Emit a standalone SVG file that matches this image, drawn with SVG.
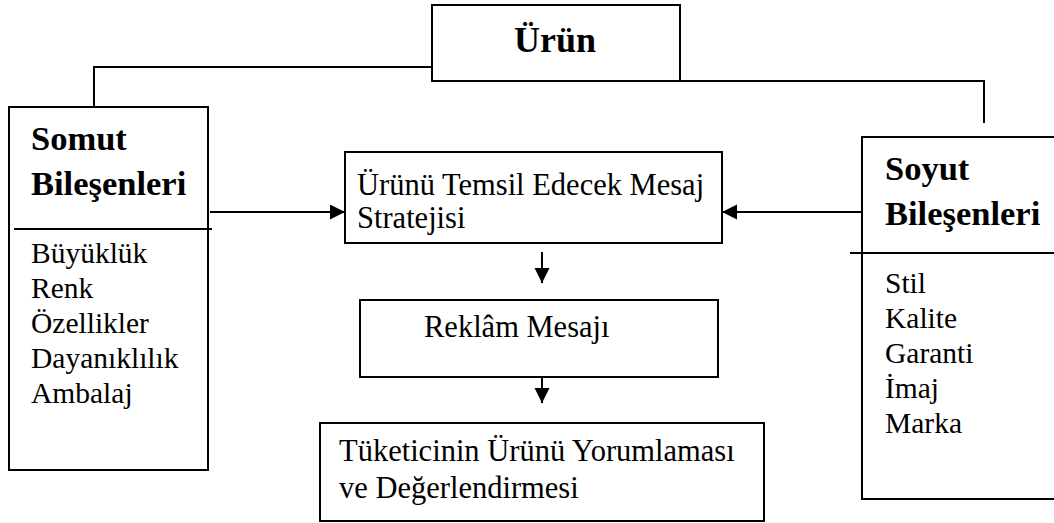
<svg xmlns="http://www.w3.org/2000/svg" width="1054" height="523" viewBox="0 0 1054 523">
<style>
.box{fill:#fff;stroke:#000;stroke-width:2}
.ln{fill:none;stroke:#000;stroke-width:2}
.t{font-family:"Liberation Serif","Times New Roman",serif;font-size:29.5px;fill:#000}
.c{font-size:30.5px}
.b{font-family:"Liberation Serif","Times New Roman",serif;font-size:34.5px;font-weight:bold;fill:#000}
</style>
<defs>
<marker id="a" markerWidth="16" markerHeight="16" refX="15" refY="7.5" orient="auto" markerUnits="userSpaceOnUse">
<path d="M0,0 L15,7.5 L0,15 Z" fill="#000"/>
</marker>
</defs>
<g id="connectors">
<path class="ln" d="M94,107 V67 H432"/>
<path class="ln" d="M680,81 H984 V123"/>
<line class="ln" x1="210" y1="212" x2="345" y2="212" marker-end="url(#a)"/>
<line class="ln" x1="862" y1="212" x2="722" y2="212" marker-end="url(#a)"/>
<line class="ln" x1="542" y1="252" x2="542" y2="283" marker-end="url(#a)"/>
<line class="ln" x1="542" y1="371" x2="542" y2="403" marker-end="url(#a)"/>
</g>
<g id="urun">
<rect class="box" x="432" y="5" width="248" height="76"/>
<text class="b" x="514" y="52" style="font-size:36px">Ürün</text>
</g>
<g id="somut">
<rect class="box" x="9" y="107" width="199" height="363"/>
<line class="ln" x1="14" y1="229" x2="212" y2="229"/>
<text class="b" x="31" y="150">Somut</text>
<text class="b" x="31" y="195">Bileşenleri</text>
<text class="t" x="31" y="263">Büyüklük</text>
<text class="t" x="31" y="298">Renk</text>
<text class="t" x="31" y="333">Özellikler</text>
<text class="t" x="31" y="368">Dayanıklılık</text>
<text class="t" x="31" y="403">Ambalaj</text>
</g>
<g id="soyut">
<rect class="box" x="862" y="137" width="210" height="362"/>
<line class="ln" x1="850" y1="253" x2="1054" y2="253"/>
<text class="b" x="885" y="180">Soyut</text>
<text class="b" x="885" y="225">Bileşenleri</text>
<text class="t" x="885" y="293">Stil</text>
<text class="t" x="885" y="328">Kalite</text>
<text class="t" x="885" y="363">Garanti</text>
<text class="t" x="885" y="398">İmaj</text>
<text class="t" x="885" y="433">Marka</text>
</g>
<g id="strateji">
<rect class="box" x="345" y="152" width="377" height="91"/>
<text class="t c" x="357" y="195">Ürünü Temsil Edecek Mesaj</text>
<text class="t c" x="357" y="228">Stratejisi</text>
</g>
<g id="reklam">
<rect class="box" x="360" y="300" width="358" height="77"/>
<text class="t c" x="424" y="337">Reklâm Mesajı</text>
</g>
<g id="tuketici">
<rect class="box" x="320" y="423" width="444" height="98"/>
<text class="t c" x="339" y="461">Tüketicinin Ürünü Yorumlaması</text>
<text class="t c" x="339" y="498">ve Değerlendirmesi</text>
</g>
</svg>
